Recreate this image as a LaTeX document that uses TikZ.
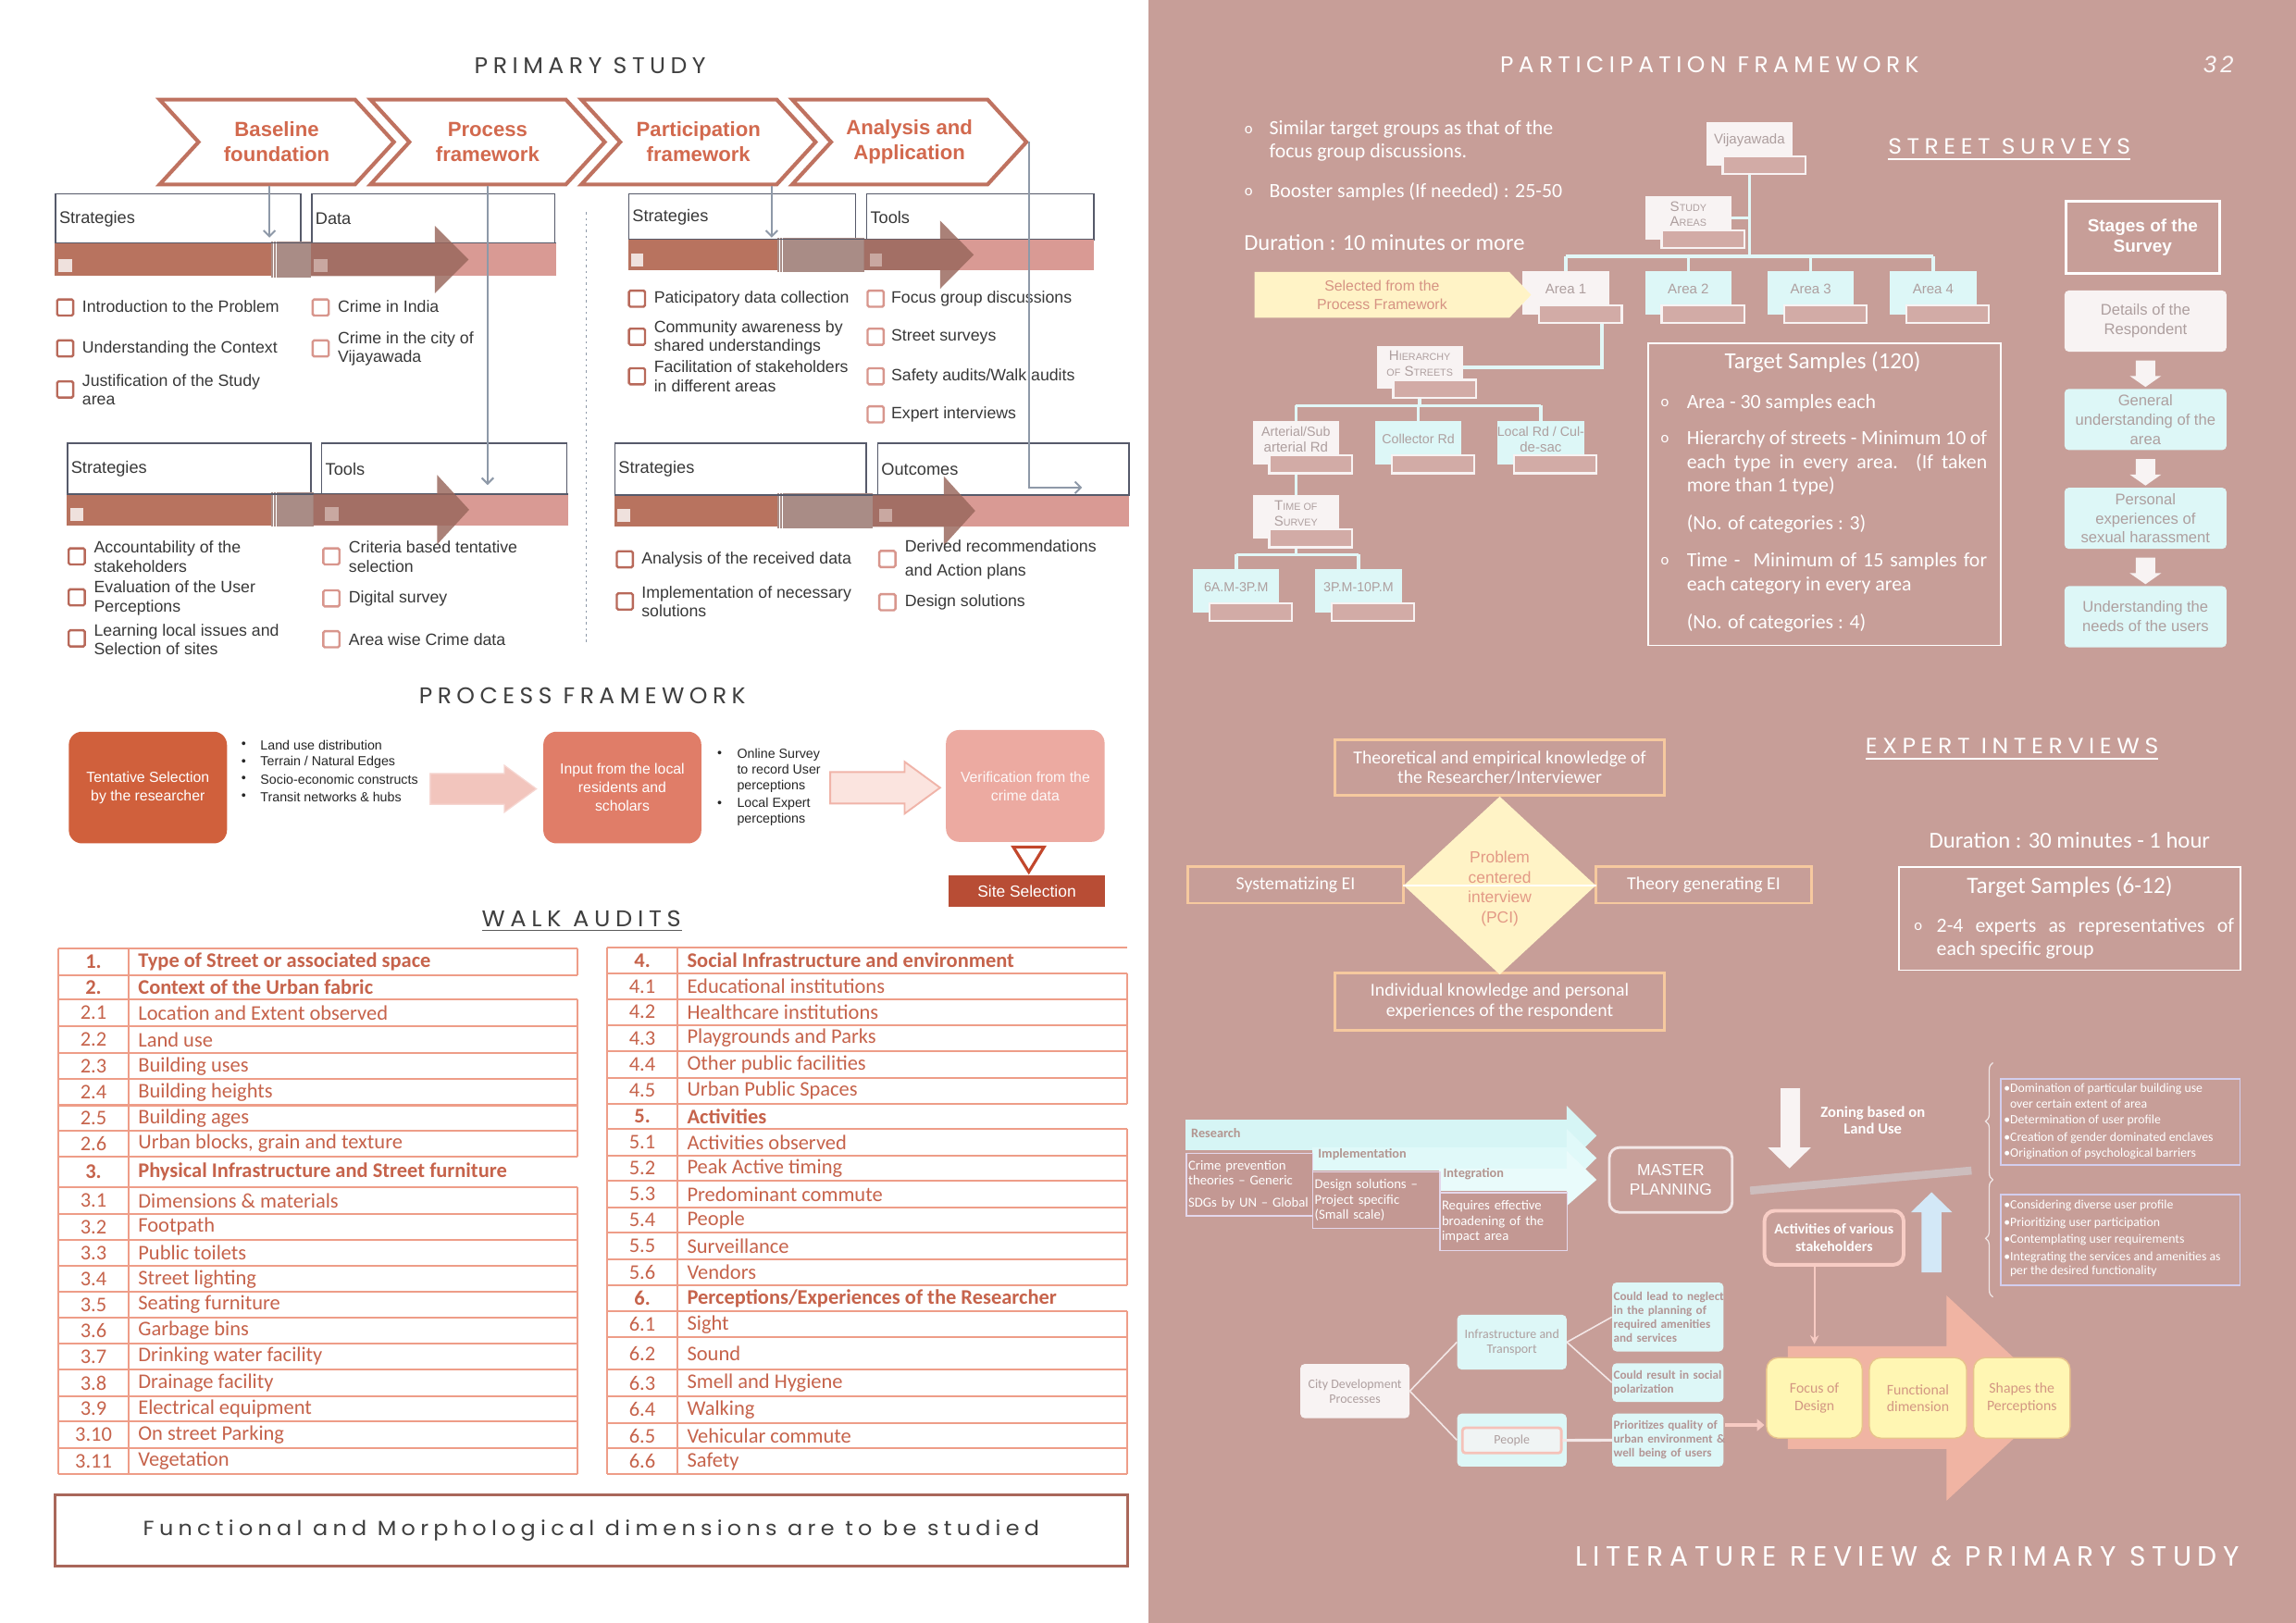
\documentclass[tikz,border=0pt]{standalone}
\usepackage{fontspec}
\usepackage{graphicx}
\usetikzlibrary{shapes.geometric,shapes.symbols,shapes.arrows,arrows.meta,decorations.pathreplacing,calc}
\setmainfont{Liberation Sans}
\newfontfamily\af{Liberation Sans}
\newfontfamily\cf{Carlito}
\newfontfamily\tf[LetterSpace=22]{Poppins}
\newcommand\fsz[2]{\fontsize{#1}{#2}\selectfont}
\newcommand\ttl[2]{\resizebox{#1}{\height}{\tf #2}}
\newcommand\fsc[2]{#1{\fontsize{6.8}{8}\selectfont #2}}
\newcommand\jl[2]{\makebox[#1][s]{#2}}

\definecolor{pinkbg}{HTML}{C79E98}
\definecolor{ttc}{HTML}{3F3F3F}
\definecolor{chevb}{HTML}{BF7260}
\definecolor{chevt}{HTML}{D2694E}
\definecolor{gline}{HTML}{8E99A8}
\definecolor{boxl}{HTML}{565A6A}
\definecolor{bardark}{HTML}{B8735F}
\definecolor{barmid}{HTML}{A98C86}
\definecolor{barpink}{HTML}{D99A94}
\definecolor{arrowc}{HTML}{98665B}
\definecolor{sqpale}{HTML}{EFE1DD}
\definecolor{sqd}{HTML}{B8695A}
\definecolor{sql}{HTML}{D8968D}
\definecolor{itemc}{HTML}{383838}
\definecolor{pf1}{HTML}{D0603C}
\definecolor{pf2}{HTML}{E07D68}
\definecolor{pf3}{HTML}{ECAAA1}
\definecolor{pfa1}{HTML}{F2C5BD}
\definecolor{pfa2}{HTML}{FBE4DF}
\definecolor{pfa2b}{HTML}{F0B4A9}
\definecolor{sitec}{HTML}{B84D35}
\definecolor{trib}{HTML}{C2472C}
\definecolor{tabl}{HTML}{EE9D88}
\definecolor{tabt}{HTML}{C6634B}
\definecolor{funcb}{HTML}{A9675A}
\definecolor{tbw}{HTML}{F8F3F3}
\definecolor{cyanb}{HTML}{DDF7F7}
\definecolor{tlc}{HTML}{E2F7F7}
\definecolor{tbinf}{HTML}{D2ABA6}
\definecolor{graytx}{HTML}{AE9F9F}
\definecolor{yel}{HTML}{FFF3C6}
\definecolor{selt}{HTML}{D69383}
\definecolor{orbd}{HTML}{F6C99F}
\definecolor{pcit}{HTML}{E39A86}
\definecolor{band1}{HTML}{D6F5F5}
\definecolor{band2}{HTML}{E0F9F9}
\definecolor{band3}{HTML}{E9FBFB}
\definecolor{labc}{HTML}{B39590}
\definecolor{ubf}{HTML}{C39893}
\definecolor{ubd}{HTML}{E4D7EB}
\definecolor{mpd}{HTML}{F3E7E7}
\definecolor{levc}{HTML}{CDBDBD}
\definecolor{upc}{HTML}{D3E8F7}
\definecolor{actb}{HTML}{F8CDC5}
\definecolor{brc}{HTML}{EFE5E5}
\definecolor{lavb}{HTML}{D3CEEE}
\definecolor{salm}{HTML}{F0B4A3}
\definecolor{yelb}{HTML}{FFF6B3}
\definecolor{yeld}{HTML}{E8C38C}
\definecolor{ybt}{HTML}{D39783}
\definecolor{jbt}{HTML}{B39595}
\definecolor{pplb}{HTML}{F5C2B9}
\definecolor{pkc}{HTML}{F7CBC3}

\pgfdeclarelayer{bg}
\pgfdeclarelayer{ln}
\pgfsetlayers{bg,ln,main}

\tikzset{
  pbox/.style={draw=boxl, line width=0.9pt, fill=white, anchor=north west, align=left,
     font=\af\fsz{11.5}{13}, text=itemc, inner xsep=2.5pt},
  ck/.style={draw=sqd, line width=1.5pt, minimum size=11pt, rounded corners=1pt, fill=white},
  ckl/.style={ck, draw=sql},
  it/.style={anchor=west, align=left, font=\af\fsz{11.2}{13}, text=itemc},
  conn/.style={draw=gline, line width=1.3pt, -{Straight Barb[length=4pt,width=8pt]}},
  chev/.style={signal, signal to=east, signal from=west, signal pointer angle=95, draw=chevb,
     line width=2.6pt, fill=white, minimum width=160, minimum height=58, align=center,
     font=\af\bfseries\fsz{14}{17}, text=chevt},
  pfbx/.style={rounded corners=9pt, text=white, align=center, font=\af\fsz{10}{12.6}},
  pft/.style={anchor=west, align=left, font=\af\fsz{9}{10.8}, text=black!85},
  tabline/.style={draw=tabl, line width=1.3pt},
  tabtx/.style={font=\cf\fsz{14.2}{15}, text=tabt},
  tb/.style={anchor=north west, minimum width=59, minimum height=29.5},
  tbt/.style={font=\af\fsz{9.5}{10.5}, text=graytx, align=center},
  tbin/.style={fill=tbinf, draw=tbw, line width=1.4pt},
  tl/.style={draw=tlc, line width=2.2pt},
  wt/.style={anchor=west, text=white, font=\cf\fsz{13.8}{15.8}, align=left},
  bul/.style={text=white, font=\cf\fsz{10.5}{12}},
  stgb/.style={rounded corners=3pt, minimum width=110.7, minimum height=41.8, align=center,
     font=\af\fsz{10.5}{13.2}, text=graytx},
  dar/.style={single arrow, shape border rotate=270, fill=tbw, minimum height=16.6,
     minimum width=21, inner sep=6.5pt, single arrow head extend=4pt, single arrow tip angle=110},
  eib/.style={draw=orbd, line width=1.8pt, text=white, font=\cf\fsz{12.5}{13.7}, align=center},
  lab/.style={anchor=west, text=labc, font=\cf\bfseries\fsz{9}{11}},
  ubx/.style={draw=ubd, line width=0.9pt, fill=ubf, text=white, font=\cf\fsz{9.3}{10.3},
     align=left, anchor=north west, inner xsep=1.2pt},
  bt/.style={anchor=west, text=white, font=\cf\fsz{8.7}{10}},
  ybx/.style={rounded corners=8pt, fill=yelb, draw=yeld, line width=0.9pt, text=ybt,
     font=\cf\fsz{10}{11.6}, align=center, minimum height=55},
  cbx/.style={rounded corners=3pt, fill=cyanb, text=graytx, font=\cf\fsz{8.8}{10}, align=center},
  jbx/.style={rounded corners=3pt, fill=cyanb, text=jbt, font=\cf\bfseries\fsz{8.3}{9.4},
     align=left, text width=74pt, inner xsep=1pt},
  wl/.style={draw=mpd, line width=1pt},
}

\newcommand\pbar[9]{%
 \fill[bardark] (#1,#5) rectangle (#2,#6);
 \fill[barpink] (#3,#5) rectangle (#4,#6);
 \fill[barmid] (#2,{#5-1}) rectangle (#3,{#6+1});
 \draw[white, line width=0.5pt] ({#2+1.5},{#5-1}) -- ({#2+1.5},{#6+1}) ({#2+3.5},{#5-1}) -- ({#2+3.5},{#6+1});
 \draw[boxl, line width=0.9pt] (#1,#5) -- (#4,#5);
 \fill[arrowc, opacity=0.82] (#3,#5) -- (#7,#5) -- (#7,{(#5+#6)/2-#9}) -- (#8,{(#5+#6)/2}) -- (#7,{(#5+#6)/2+#9}) -- (#7,#6) -- (#3,#6) -- cycle;
}
\newcommand\tbox[5]{%
  \node[tb, fill=#4] (#1) at (#2,#3) {};
  \node[tbt] (#1t) at ($(#1.center)+(0,-2.5)$) {#5};
  \draw[tbin] ($(#1.south west)+(11.5,-6.5)$) rectangle ($(#1.south east)+(8.5,5.7)$);
}
\newcommand\wtab[4]{%
 \foreach \ya/\yb/\nm/\tx/\hd [count=\r] in {#4}{%
   \draw[tabline] (#1,\ya) -- (#3,\ya);
   \draw[tabline] (#1,\ya) -- (#1,\yb);
   \draw[tabline] (#2,\ya) -- (#2,\yb);
   \ifnum\hd<2 \draw[tabline] (#3,\ya) -- (#3,\yb);\fi
   \node[tabtx] at ({(#1+#2)/2},{(\ya+\yb)/2}) {\ifnum\hd>0 \bfseries\fi\nm};
   \node[tabtx, anchor=west] at ({#2+6.5},{(\ya+\yb)/2}) {\ifnum\hd>0 \bfseries\fi\tx};
 }%
 \draw[tabline] (#1,1007) -- (#3,1007);
}

\begin{document}
\begin{tikzpicture}[x=1pt,y=-1pt,every node/.style={inner sep=0pt}]
\useasboundingbox (0,0) rectangle (1568,1108.5);
\begin{pgfonlayer}{bg}
 \fill[white] (0,0) rectangle (784,1108.5);
 \fill[pinkbg] (784,0) rectangle (1568,1108.5);
\end{pgfonlayer}

%================ LEFT : PRIMARY STUDY =================
\node[text=ttc, font=\fsz{15.5}{18}] (tps) at (403,45) {\ttl{158pt}{PRIMARY STUDY}};
\node[chev] (ch1) at (189,97) {Baseline\\foundation};
\node[chev] (ch2) at (333,97) {Process\\framework};
\node[chev] (ch3) at (477,97) {Participation\\framework};
\node[chev] (ch4) at (621,97) {Analysis and\\Application};

\node[pbox, minimum width=167.5, minimum height=34, text width=162.5pt] (bs1) at (37.5,132) {Strategies};
\node[pbox, minimum width=166, minimum height=34, text width=161pt] (bd1) at (212.5,132) {Data};
\node[pbox, minimum width=155, minimum height=31.5, text width=150pt] (bs2) at (429,132) {Strategies};
\node[pbox, minimum width=155, minimum height=31.5, text width=150pt] (bt2) at (591.5,132) {Tools};
\node[pbox, minimum width=166.4, minimum height=35.2, text width=161.4pt] (bs3) at (45.6,302.3) {Strategies};
\node[pbox, minimum width=167.3, minimum height=35.2, text width=162.3pt] (bt3) at (219.3,302.3) {Tools};
\node[pbox, minimum width=171.7, minimum height=35.7, text width=166.7pt] (bs4) at (419.5,302.3) {Strategies};
\node[pbox, minimum width=171.7, minimum height=35.7, text width=166.7pt] (bo4) at (599,302.3) {Outcomes};

\pbar{37.5}{185}{212.5}{380}{166}{188.5}{297}{320}{23}
\pbar{429}{531}{590}{747}{163.5}{184.5}{642}{665}{23.3}
\pbar{45.6}{185}{214}{388}{337.5}{358.8}{298.6}{320.4}{23.7}
\pbar{419.5}{530.8}{596}{771}{338}{359.8}{644.5}{666}{23.75}
\fill[sqpale] (40,177) rectangle (49,186);
\fill[sqpale, opacity=0.5] (214.5,177) rectangle (223.5,186);
\fill[sqpale] (431,173) rectangle (439,182);
\fill[sqpale, opacity=0.5] (594,173) rectangle (602,182);
\fill[sqpale] (48,347) rectangle (57,356);
\fill[sqpale, opacity=0.5] (222,346.5) rectangle (231,355.5);
\fill[sqpale] (421.5,347.5) rectangle (430.5,356.5);
\fill[sqpale, opacity=0.5] (600.5,347.5) rectangle (609.5,356.5);

% items row 1 left
\node[ck] (k11) at (44.5,210) {};  \node[it] (i11) at (56,209.5) {Introduction to the Problem};
\node[ck] (k12) at (44.5,238) {};  \node[it] (i12) at (56,238.2) {Understanding the Context};
\node[ck] (k13) at (44.5,266) {};  \node[it] (i13) at (56,266.3) {Justification of the Study\\area};
\node[ckl] (k14) at (219,210) {}; \node[it] (i14) at (230.5,209.5) {Crime in India};
\node[ckl] (k15) at (219,238) {}; \node[it] (i15) at (230.5,238.3) {Crime in the city of\\Vijayawada};
% items row 1 right
\node[ck] (k21) at (435,204) {};  \node[it] (i21) at (446.5,204) {Paticipatory data collection};
\node[ck] (k22) at (435,230) {};  \node[it] (i22) at (446.5,230.5) {Community awareness by\\shared understandings};
\node[ck] (k23) at (435,257) {};  \node[it] (i23) at (446.5,257) {Facilitation of stakeholders\\in different areas};
\node[ckl] (k24) at (598,204) {}; \node[it] (i24) at (608.5,204) {Focus group discussions};
\node[ckl] (k25) at (598,230) {}; \node[it] (i25) at (608.5,230) {Street surveys};
\node[ckl] (k26) at (598,257) {}; \node[it] (i26) at (608.5,257) {Safety audits/Walk audits};
\node[ckl] (k27) at (598,283) {}; \node[it] (i27) at (608.5,283) {Expert interviews};
% items row 2 left
\node[ck] (k31) at (52.4,380) {};  \node[it] (i31) at (64,380.3) {Accountability of the\\stakeholders};
\node[ck] (k32) at (52.4,408) {};  \node[it] (i32) at (64,408.5) {Evaluation of the User\\Perceptions};
\node[ck] (k33) at (52.4,436) {};  \node[it] (i33) at (64,436.8) {Learning local issues and\\Selection of sites};
\node[ckl] (k34) at (226.3,380) {}; \node[it] (i34) at (238,380.3) {Criteria based tentative\\selection};
\node[ckl] (k35) at (226.3,408.7) {}; \node[it] (i35) at (238,408.7) {Digital survey};
\node[ckl] (k36) at (226.3,436.6) {}; \node[it] (i36) at (238,436.6) {Area wise Crime data};
% items row 2 right
\node[ck] (k41) at (426.7,382) {};  \node[it] (i41) at (438,382) {Analysis of the received data};
\node[ck] (k42) at (426.7,410.8) {}; \node[it] (i42) at (438,411) {Implementation of necessary\\solutions};
\node[ckl] (k43) at (606,381.8) {}; \node[it, font=\af\fsz{11.2}{16.4}] (i43) at (617.8,382.2) {Derived recommendations\\and Action plans};
\node[ckl] (k44) at (606,411.3) {}; \node[it] (i44) at (617.8,411.3) {Design solutions};

\draw[gline, dash pattern=on 1.5pt off 2.5pt, line width=0.8pt] (400.2,145) -- (400.2,439);

% connectors from chevrons
\coordinate (oend) at (739,333);
\draw[conn] ($(ch1.south)+(-5,0)$) -- ++(0,35);
\draw[conn] (ch2.south) -- ++(0,204);
\draw[conn] ($(ch3.south)+(50,0)$) -- ++(0,35);
\draw[conn] (ch4.east) |- (oend);

%================ PROCESS FRAMEWORK =================
\node[text=ttc, font=\fsz{15.5}{18}] (tpf) at (397.7,475) {\ttl{223pt}{PROCESS FRAMEWORK}};
\node[pfbx, fill=pf1, minimum width=108, minimum height=76.3] (pfa) at (101,537.9) {Tentative Selection\\by the researcher};
\node[pfbx, fill=pf2, minimum width=107.9, minimum height=76.3] (pfb) at (425,537.9) {Input from the local\\residents and\\scholars};
\node[pfbx, fill=pf3, minimum width=108.3, minimum height=76.4, text=white!92!pf3] (pfc) at (700.2,536.8) {Verification from the\\crime data};
\foreach \yy/\tt [count=\i] in {508.7/{Land use distribution},520.7/{Terrain / Natural Edges},532.5/{Socio-economic constructs},544.5/{Transit networks \& hubs}}{
  \node[pft] (pb\i) at (164.6,\yy) {•};
  \node[pft] (pl\i) at (177.7,\yy) {\tt};
}
\node[pft] (pq1) at (489.7,515.5) {•};
\node[pft] (pq2) at (489.7,549) {•};
\node[pft] (pr1) at (503.2,526.3) {Online Survey\\to record User\\perceptions};
\node[pft] (pr2) at (503.2,554.4) {Local Expert\\perceptions};
\filldraw[fill=pfa1, draw=pfa1!70!white, line width=0.8pt] (293.8,528.3) -- (344.5,528.3) -- (344.5,522.8) -- (366.3,538.8) -- (344.5,554.7) -- (344.5,549.4) -- (293.8,549.4) -- cycle;
\filldraw[fill=pfa2, draw=pfa2b, line width=1.2pt] (567,527.3) -- (617.8,527.3) -- (617.8,520.3) -- (642,538) -- (617.8,555.7) -- (617.8,548.8) -- (567,548.8) -- cycle;
\draw[trib, line width=2pt, fill=white] (692,578.5) -- (713,578.5) -- (702.6,595.5) -- cycle;
\node[fill=sitec, minimum width=106.3, minimum height=21.1, text=white, font=\af\fsz{11}{13}] (site) at (701.2,608.5) {Site Selection};

%================ WALK AUDITS =================
\node[text=ttc, font=\fsz{15.5}{18}] (twa) at (397,627.4) {\ttl{136pt}{WALK AUDITS}};
\draw[ttc!85, line width=1.2pt] (329,635.5) -- (465.5,635.5);

\wtab{40}{87.7}{394.5}{647.7/665.9/1./{Type of Street or associated space}/1,
665.9/682.8/2./{Context of the Urban fabric}/2,
682.8/701/2.1/{Location and Extent observed}/0,
701/719.1/2.2/{Land use}/0,
719.1/737.2/2.3/{Building uses}/0,
737.2/754.9/2.4/{Building heights}/0,
754.9/772.3/2.5/{Building ages}/0,
772.3/789.7/2.6/{Urban blocks, grain and texture}/0,
789.7/811/3./{Physical Infrastructure and Street furniture}/2,
811/829.2/3.1/{Dimensions \& materials}/0,
829.2/846.8/3.2/{Footpath}/0,
846.8/864.7/3.3/{Public toilets}/0,
864.7/882.4/3.4/{Street lighting}/0,
882.4/900/3.5/{Seating furniture}/0,
900/917.4/3.6/{Garbage bins}/0,
917.4/935.6/3.7/{Drinking water facility}/0,
935.6/953.7/3.8/{Drainage facility}/0,
953.7/970.7/3.9/{Electrical equipment}/0,
970.7/988.8/3.10/{On street Parking}/0,
988.8/1007/3.11/{Vegetation}/0}

\wtab{414.7}{462.6}{769.8}{647/665.1/4./{Social Infrastructure and environment}/2,
665.1/682.3/4.1/{Educational institutions}/0,
682.3/700.2/4.2/{Healthcare institutions}/0,
700.2/717.9/4.3/{Playgrounds and Parks}/0,
717.9/736/4.4/{Other public facilities}/0,
736/753.7/4.5/{Urban Public Spaces}/0,
753.7/771.1/5./{Activities}/2,
771.1/789.2/5.1/{Activities observed}/0,
789.2/806.7/5.2/{Peak Active timing}/0,
806.7/824.8/5.3/{Predominant commute}/0,
824.8/842/5.4/{People}/0,
842/859.9/5.5/{Surveillance}/0,
859.9/878/5.6/{Vendors}/0,
878/895.7/6./{Perceptions/Experiences of the Researcher}/2,
895.7/913.3/6.1/{Sight}/0,
913.3/935.6/6.2/{Sound}/0,
935.6/953.7/6.3/{Smell and Hygiene}/0,
953.7/971.9/6.4/{Walking}/0,
971.9/989.3/6.5/{Vehicular commute}/0,
989.3/1007/6.6/{Safety}/0}

\node[draw=funcb, line width=1.8pt, fill=white, minimum width=732.8, minimum height=48.5, text=ttc, font=\fsz{14}{16}] (fmd) at (403.8,1045.5) {\ttl{612pt}{Functional and Morphological dimensions are to be studied}};

%================ RIGHT : PARTICIPATION FRAMEWORK =================
\node[text=white, font=\fsz{15.5}{18}] (tpa) at (1167.5,44.2) {\ttl{286pt}{PARTICIPATION FRAMEWORK}};
\node[text=white!92!pinkbg, font=\af\itshape\fsz{16}{18}] (pg) at (1515,44) {3\,2};

\node[bul] (o1) at (852.8,88.5) {o};
\node[wt] (w1) at (866.6,96.4) {Similar target groups as that of the\\focus group discussions.};
\node[bul] (o2) at (852.8,131) {o};
\node[wt] (w2) at (866.6,131) {Booster samples (If needed) : 25-50};
\node[wt, font=\cf\fsz{15.5}{18}] (dur1) at (849.4,165.4) {Duration : 10 minutes or more};

\node[text=white, font=\fsz{15}{18}] (tss) at (1372.2,100) {\ttl{165.5pt}{STREET SURVEYS}};
\draw[white, line width=1.2pt] (1289.5,108.5) -- (1455,108.5);

\tbox{vij}{1165}{83.2}{tbw}{Vijayawada}
\tbox{sa}{1123.3}{133.8}{tbw}{\fsc{S}{TUDY}\\\fsc{A}{REAS}}
\tbox{a1}{1039.7}{185}{tbw}{Area 1}
\tbox{a2}{1123.3}{185}{cyanb}{Area 2}
\tbox{a3}{1206.9}{185}{cyanb}{Area 3}
\tbox{a4}{1290.5}{185}{cyanb}{Area 4}
\tbox{hs}{939.9}{236}{tbw}{\fsc{H}{IERARCHY}\\{\fontsize{6.8}{8}\selectfont OF} \fsc{S}{TREETS}}
\tbox{art}{855.3}{287.6}{tbw}{\fsz{9}{10.5}Arterial/Sub\\arterial Rd}
\tbox{col}{938.9}{287.6}{cyanb}{\fsz{9}{10.5}Collector Rd}
\tbox{loc}{1022.5}{287.6}{cyanb}{\fsz{9}{10.5}Local Rd / Cul-\\de-sac}
\tbox{tos}{855.3}{338.2}{tbw}{\fsc{T}{IME OF}\\\fsc{S}{URVEY}}
\tbox{am}{814.5}{388.7}{cyanb}{\fsz{9}{10.5}6A.M-3P.M}
\tbox{pm}{898}{388.7}{cyanb}{\fsz{9}{10.5}3P.M-10P.M}

\begin{pgfonlayer}{ln}
 \coordinate (h1) at (1195,175);
 \draw[tl] (vij.center) -- (vij.center |- h1);
 \draw[tl] (sa.center) -- (sa.center -| vij.center);
 \draw[tl] (a1.center |- h1) -- (a4.center |- h1);
 \foreach \a in {a1,a2,a3,a4} \draw[tl] (\a.center |- h1) -- (\a.center);
 \draw[tl] ($(a1.center)+(24.6,0)$) |- (hs.center);
 \coordinate (h2) at (969,277);
 \draw[tl] (hs.center) -- (hs.center |- h2);
 \draw[tl] (art.center |- h2) -- (loc.center |- h2);
 \foreach \a in {art,col,loc} \draw[tl] (\a.center |- h2) -- (\a.center);
 \draw[tl] (art.center) -- (tos.center);
 \coordinate (h3) at (885,378.8);
 \draw[tl] (tos.center) -- (tos.center |- h3);
 \draw[tl] (am.center |- h3) -- (pm.center |- h3);
 \foreach \a in {am,pm} \draw[tl] (\a.center |- h3) -- (\a.center);
\end{pgfonlayer}

\node[signal, signal to=east, signal pointer angle=93, fill=yel, minimum width=188.8, minimum height=31.2, text=selt, font=\af\fsz{10}{12.4}, align=center] (sel) at (943.8,201.4) {Selected from the\\Process Framework};

\node[draw=white, line width=1.8pt, minimum width=104.6, minimum height=49.1, text=white, font=\af\bfseries\fsz{12}{14}, align=center] (stg) at (1463.3,162) {Stages of the\\Survey};
\node[stgb, fill=tbw] (st1) at (1465.2,219.3) {Details of the\\Respondent};
\node[stgb, fill=cyanb] (st2) at (1465.2,286.5) {General\\understanding of the\\area};
\node[stgb, fill=cyanb] (st3) at (1465.2,354) {Personal\\experiences of\\sexual harassment};
\node[stgb, fill=cyanb] (st4) at (1465.2,421.2) {Understanding the\\needs of the users};
\node[dar] (da1) at ($(st1.south)!0.5!(st2.north)$) {};
\node[dar] (da2) at ($(st2.south)!0.5!(st3.north)$) {};
\node[dar] (da3) at ($(st3.south)!0.5!(st4.north)$) {};

\node[draw=white, line width=1.1pt, minimum width=240.9, minimum height=206.4, anchor=north west] (tsb) at (1124.8,233.9) {};
\node[text=white, font=\cf\fsz{15.8}{17}] (tst) at (1244.7,247.6) {Target Samples (120)};
\node[bul] (o3) at (1137,275.4) {o};
\node[wt] (w3) at (1151.8,275.4) {Area - 30 samples each};
\node[bul] (o4) at (1137,300.2) {o};
\node[wt] (w4) at (1151.8,300.2) {\jl{205pt}{Hierarchy of streets - Minimum 10 of}};
\node[wt] (w5) at (1151.8,316) {\jl{205pt}{each type in every area. (If taken}};
\node[wt] (w6) at (1151.8,331.8) {more than 1 type)};
\node[wt] (w7) at (1151.8,358.2) {(No. of categories : 3)};
\node[bul] (o5) at (1137,383.5) {o};
\node[wt] (w8) at (1151.8,383.5) {\jl{205pt}{Time - \ Minimum of 15 samples for}};
\node[wt] (w9) at (1151.8,399.7) {each category in every area};
\node[wt] (w10) at (1151.8,425.6) {(No. of categories : 4)};

%================ EXPERT INTERVIEWS =================
\node[text=white, font=\fsz{15}{18}] (tei) at (1374,509.8) {\ttl{200pt}{EXPERT INTERVIEWS}};
\draw[white, line width=1.2pt] (1274.2,518) -- (1473.9,518);
\node[eib, minimum width=224.8, minimum height=38.3] (eit) at (1024.2,524.3) {Theoretical and empirical knowledge of\\the Researcher/Interviewer};
\node[eib, minimum width=147.6, minimum height=24.8] (eis) at (884.8,604.4) {Systematizing EI};
\node[eib, minimum width=147.5, minimum height=24.8] (eig) at (1163.5,604.4) {Theory generating EI};
\node[eib, minimum width=224.8, minimum height=38.9] (eii) at (1024.2,684.1) {Individual knowledge and personal\\experiences of the respondent};
\node[diamond, fill=yel, minimum width=131.2, minimum height=121.7] (pci) at (1024.2,604.8) {};
\draw[white, line width=1.3pt] (pci.west) -- (pci.east);
\node[text=pcit, font=\af\fsz{11}{13.7}, align=center] (pcit) at (1024.2,607) {Problem\\centered\\interview\\(PCI)};

\node[text=white, font=\cf\fsz{15.6}{17}] (dur2) at (1413.4,574) {Duration : 30 minutes - 1 hour};
\node[draw=white, line width=1.1pt, minimum width=233.2, minimum height=70.2] (tsb2) at (1413.4,627.5) {};
\node[text=white, font=\cf\fsz{16}{17}] (tst2) at (1413.4,605.7) {Target Samples (6-12)};
\node[bul] (o6) at (1310,633) {o};
\node[wt] (w11) at (1322.4,633) {\jl{203pt}{2-4 experts as representatives of}};
\node[wt] (w12) at (1322.4,648.9) {each specific group};

%================ BOTTOM RIGHT =================
\fill[band1] (809.9,764.7) rectangle (1069.9,785.8);
\fill[band1] (1069.9,755.3) -- (1090.3,775.7) -- (1069.9,796) -- cycle;
\fill[band2] (896.2,783.7) rectangle (1069.9,799.5);
\fill[band2] (1069.9,771) -- (1090.3,791) -- (1069.9,811) -- cycle;
\fill[band3] (983,798) rectangle (1069.9,813.2);
\fill[band3] (1069.9,786) -- (1090.3,805.8) -- (1069.9,823.7) -- cycle;
\node[lab] (lr) at (813.3,773.6) {Research};
\node[lab] (li) at (900,788.5) {Implementation};
\node[lab] (lg) at (985.5,802) {Integration};
\node[ubx, minimum width=86.3, minimum height=42.5, text width=83.9pt] (ub1) at (809.9,787.5) {Crime prevention\\theories – Generic\\[4.5pt]SDGs by UN – Global};
\node[ubx, minimum width=86.8, minimum height=38.4, text width=84.4pt] (ub2) at (896.2,800.1) {Design solutions –\\Project specific\\(Small scale)};
\node[ubx, minimum width=86.9, minimum height=39.4, text width=84.5pt] (ub3) at (983,814.3) {Requires effective\\broadening of the\\impact area};

\node[draw=mpd, line width=1.8pt, rounded corners=7pt, minimum width=83.9, minimum height=44.3, text=white, font=\af\fsz{11}{13}, align=center] (mp) at (1141,805.9) {MASTER\\PLANNING};
\fill[tbw] (1216,743.3) -- (1229.3,743.3) -- (1229.3,783.7) -- (1236.7,783.7) -- (1222.1,798) -- (1207.4,783.7) -- (1216,783.7) -- cycle;
\node[text=white, font=\cf\bfseries\fsz{10.5}{11.3}, align=center] (zon) at (1279,765) {Zoning based on\\Land Use};
\draw[levc, line width=5.5pt] (1195.2,813.2) -- (1346.4,799.5);
\fill[upc] (1312.3,869) -- (1325.9,869) -- (1325.9,828) -- (1333.2,828) -- (1319.1,814.3) -- (1305,828) -- (1312.3,828) -- cycle;
\node[draw=actb, line width=2.5pt, rounded corners=7pt, minimum width=95, minimum height=36.9, text=white, font=\cf\bfseries\fsz{10}{12.2}, align=center] (act) at (1252.5,845.4) {Activities of various\\stakeholders};

\draw[brc, line width=0.8pt, decorate, decoration={brace, amplitude=5pt}] (1361,805.8) -- (1361,725.8);
\draw[brc, line width=0.8pt, decorate, decoration={brace, amplitude=5pt}] (1361,885.9) -- (1361,805.8);
\node[draw=lavb, line width=1pt, minimum width=163.3, minimum height=59, anchor=north west] (bb1) at (1366,736.3) {};
\node[bt] (b11) at (1368.3,743.7) {•Domination of particular building use};
\node[bt] (b12) at (1372.5,753.8) {over certain extent of area};
\node[bt] (b13) at (1368.3,765.2) {•Determination of user profile};
\node[bt] (b14) at (1368.3,777) {•Creation of gender dominated enclaves};
\node[bt] (b15) at (1368.3,788.3) {•Origination of psychological barriers};
\node[draw=lavb, line width=1pt, minimum width=163.3, minimum height=62.2, anchor=north west] (bb2) at (1366,815.3) {};
\node[bt] (b21) at (1368.3,823.7) {•Considering diverse user profile};
\node[bt] (b22) at (1368.3,835.3) {•Prioritizing user participation};
\node[bt] (b23) at (1368.3,846.9) {•Contemplating user requirements};
\node[bt] (b24) at (1368.3,858.9) {•Integrating the services and amenities as};
\node[bt] (b25) at (1372.5,868.4) {per the desired functionality};

\fill[salm] (1221,919.5) -- (1329.3,919.5) -- (1329.3,884.8) -- (1405,955) -- (1329.3,1025) -- (1329.3,989.7) -- (1221,989.7) -- cycle;
\node[ybx, minimum width=65.4] (fod) at (1239.1,954.8) {Focus of\\Design};
\node[ybx, minimum width=66.4] (fdm) at (1309.8,954.8) {Functional\\dimension};
\node[ybx, minimum width=65.9] (shp) at (1380.75,954.8) {Shapes the\\Perceptions};
\draw[pkc, line width=1.3pt, shorten >=8.8pt, -{Stealth[length=6pt,width=6pt]}] (act.south -| fod.north) -- (fod.north);

\node[cbx, fill=tbw, minimum width=74.6, minimum height=37] (cdp) at (925.3,950.1) {City Development\\Processes};
\node[cbx, minimum width=74.7, minimum height=37.4] (inf) at (1032.5,916.7) {Infrastructure and\\Transport};
\node[cbx, minimum width=74.7, minimum height=36.2] (ppl) at (1032.5,983.6) {};
\node[draw=pplb, line width=1.8pt, fill=tbw!70!cyanb, rounded corners=2pt, minimum width=67.5, minimum height=17.2, text=graytx, font=\cf\fsz{8.8}{10}] (ppi) at (1032.5,983.8) {People};
\node[jbx, minimum width=76, minimum height=47.1] (cl1) at (1139,899.5) {\jl{74pt}{Could lead to neglect}\\\jl{74pt}{in the planning of}\\\jl{74pt}{required amenities}\\and services};
\node[jbx, minimum width=76, minimum height=26.4] (cl2) at (1139,944.3) {\jl{74pt}{Could result in social}\\polarization};
\node[jbx, minimum width=76, minimum height=36.2] (cl3) at (1139,983.6) {\jl{74pt}{Prioritizes quality of}\\\jl{74pt}{urban environment \&}\\well being of users};
\draw[wl] (cdp.east) -- (inf.west);
\draw[wl] (cdp.east) -- (ppl.west);
\draw[wl] (inf.east) -- (cl1.west);
\draw[wl] (inf.east) -- (cl2.west);
\draw[wl, line width=2pt] (ppi.east) -- (cl3.west);
\draw[pkc, line width=2.2pt, -{Triangle[length=5pt,width=8pt]}] ($(cl3.east)+(1,-10.3)$) -- ($(fod.west)+(-1,18.5)$);

\node[text=white, font=\fsz{19}{22}] (tlr) at (1302.5,1062.8) {\ttl{453.6pt}{LITERATURE REVIEW {\itshape\&} PRIMARY STUDY}};
\end{tikzpicture}
\end{document}
